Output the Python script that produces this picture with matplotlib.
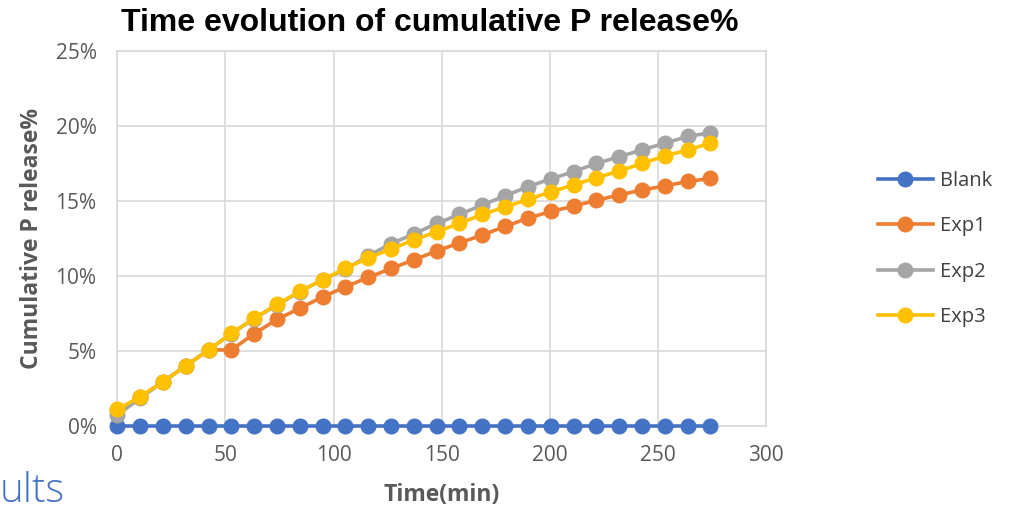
import numpy as np
import matplotlib.pyplot as plt
from matplotlib.ticker import FuncFormatter

# Sampling times (min)
time_min = [0, 10.5, 21.1, 31.6, 42.2, 52.7, 63.3, 73.8, 84.4, 94.9, 105.5, 116, 126.6,
            137.1, 147.7, 158.2, 168.8, 179.3, 189.9, 200.4, 211, 221.5, 232.1, 242.6,
            253.2, 263.7, 274.3]

# Cumulative P release (%)
blank = [0] * 27
exp1 = [1.05, 1.9, 2.95, 4.0, 5.07, 5.07, 6.15, 7.1, 7.85, 8.6, 9.28, 9.9, 10.5,
        11.07, 11.67, 12.2, 12.73, 13.3, 13.85, 14.3, 14.65, 15.05, 15.4, 15.73,
        16.0, 16.3, 16.5]
exp2 = [0.73, 1.85, 2.95, 4.0, 5.07, 6.15, 7.15, 8.07, 8.95, 9.75, 10.45, 11.35, 12.15,
        12.8, 13.5, 14.1, 14.73, 15.35, 15.95, 16.47, 16.95, 17.5, 17.95, 18.4,
        18.85, 19.3, 19.55]
exp3 = [1.1, 1.95, 2.95, 4.0, 5.07, 6.18, 7.18, 8.1, 8.97, 9.75, 10.5, 11.2, 11.8,
        12.4, 12.95, 13.5, 14.1, 14.6, 15.1, 15.6, 16.07, 16.55, 17.0, 17.5,
        18.0, 18.4, 18.85]

series = [('Blank', blank, '#4472C4'), ('Exp1', exp1, '#ED7D31'),
          ('Exp2', exp2, '#A5A5A5'), ('Exp3', exp3, '#FFC000')]

fig = plt.figure(figsize=(10.16, 5.12), dpi=100)
ax = fig.add_axes([0.1155, 0.168, 0.6385, 0.7325])

for name, vals, col in series:
    ax.plot(time_min, np.array(vals) / 100, '-o', color=col, lw=2.6, ms=10.5,
            label=name, clip_on=False, zorder=3)

ax.set_xlim(0, 300)
ax.set_ylim(0, 0.25)
ax.set_xticks(np.arange(0, 301, 50))
ax.set_yticks(np.arange(0, 0.251, 0.05))
ax.yaxis.set_major_formatter(FuncFormatter(lambda v, p: f'{v*100:.0f}%'))
ax.grid(True, color='#D9D9D9', lw=1.2)
ax.set_axisbelow(True)
for s in ax.spines.values():
    s.set_color('#D9D9D9')
    s.set_linewidth(1.2)
ax.tick_params(length=0, labelsize=15, labelcolor='#595959')
ax.tick_params(axis='x', pad=14)
ax.tick_params(axis='y', pad=15)
for lbl in ax.get_xticklabels() + ax.get_yticklabels():
    lbl.set_family('Open Sans')

ax.set_xlabel('Time(min)', fontsize=16.5, fontweight='bold', color='#595959',
              family='Open Sans', labelpad=12)
ax.set_ylabel('Cumulative P release%', fontsize=16.5, fontweight='bold', color='#595959',
              family='Open Sans', labelpad=8)

fig.text(0.423, 0.956, 'Time evolution of cumulative P release%', ha='center', va='center',
         fontsize=23, fontweight='bold', family='Liberation Sans')

leg = ax.legend(loc='center left', bbox_to_anchor=(0.856, 0.5136),
                bbox_transform=fig.transFigure, borderaxespad=0, frameon=False,
                handlelength=2.75, labelspacing=1.26, handletextpad=0.35,
                prop={'family': 'Open Sans', 'size': 14.5})
for t in leg.get_texts():
    t.set_color('#404040')

fig.text(0.0, 0.02, 'ults', color='#4472C4', fontsize=29, family='Open Sans',
         fontweight='light', ha='left', va='baseline')

fig.savefig('out.png', dpi=100)
